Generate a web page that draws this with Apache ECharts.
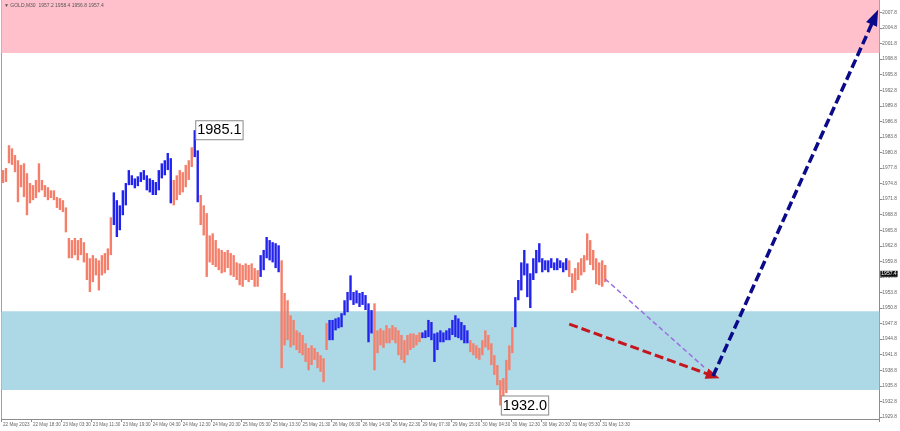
<!DOCTYPE html>
<html><head><meta charset="utf-8">
<script src="https://cdn.jsdelivr.net/npm/echarts@6/dist/echarts.min.js"></script>
<style>html,body{margin:0;padding:0;background:#fff}#c{width:900px;height:431px}</style>
</head><body><div id="c"></div>
<script>
const title = "GOLD,M30  1957.2 1958.4 1956.8 1957.4";
const timeLabels = ["22 May 2023","22 May 18:30","23 May 03:30","23 May 11:30","23 May 19:30","24 May 04:30","24 May 12:30","24 May 20:30","25 May 05:30","25 May 13:30","25 May 21:30","26 May 06:30","26 May 14:30","26 May 22:30","29 May 07:30","29 May 15:30","30 May 04:30","30 May 12:30","30 May 20:30","31 May 05:30","31 May 13:30"];
const barsPerLabel = 10;
const totalSlots = 293;
const yTicks = [1929.8,1932.8,1935.8,1938.8,1941.8,1944.8,1947.8,1950.8,1953.8,1956.8,1959.8,1962.8,1965.8,1968.8,1971.8,1974.8,1977.8,1980.8,1983.8,1986.8,1989.8,1992.8,1995.8,1998.8,2001.8,2004.8,2007.8];
const yMin = 1929.4, yMax = 2010.2;
const barHigh = [
1977.4,1977.8,1982.2,1981.6,1980.3,1979.3,1978.4,1978.7,1976.8,1974.9,
1974.5,1975.5,1978.7,1975.5,1974.5,1974.1,1973.5,1973.5,1972.2,1972.0,
1971.6,1970.2,1964.3,1963.9,1964.3,1963.9,1964.3,1963.5,1961.4,1960.4,
1961.0,1960.4,1960.0,1961.0,1961.4,1962.3,1968.3,1973.1,1971.6,1970.6,
1973.5,1974.9,1977.4,1976.4,1975.8,1976.2,1977.0,1977.4,1976.4,1975.8,
1975.5,1975.1,1977.4,1978.7,1979.3,1980.7,1979.7,1975.5,1976.4,1977.4,
1977.0,1978.4,1979.3,1981.8,1985.1,1981.2,1972.6,1970.6,1969.1,1964.8,
1965.2,1963.9,1962.3,1962.0,1961.6,1962.0,1961.4,1961.0,1959.6,1959.4,
1959.1,1959.4,1959.1,1959.4,1958.5,1958.1,1961.0,1962.0,1964.5,1963.9,
1963.5,1963.3,1962.9,1960.0,1953.7,1952.3,1949.4,1948.5,1946.5,1946.1,
1945.6,1944.0,1943.1,1943.6,1943.1,1942.3,1941.7,1941.1,1947.9,1948.5,
1948.5,1948.8,1949.0,1949.8,1952.3,1953.9,1957.1,1953.9,1954.2,1953.7,
1953.9,1953.3,1951.7,1950.4,1951.7,1946.5,1946.9,1946.5,1947.5,1946.9,
1947.5,1947.1,1946.5,1945.6,1944.6,1945.6,1945.9,1945.9,1945.6,1946.1,
1946.1,1946.5,1948.5,1948.1,1945.9,1946.1,1946.5,1946.1,1946.5,1946.9,
1948.5,1949.4,1948.8,1948.1,1947.5,1946.5,1944.6,1944.0,1943.6,1943.1,
1944.6,1946.5,1945.6,1944.0,1941.7,1939.8,1936.9,1937.3,1940.8,1943.6,
1947.1,1952.9,1956.2,1959.6,1962.0,1959.4,1957.5,1960.4,1962.0,1963.3,
1960.4,1960.0,1960.0,1960.4,1959.6,1960.4,1960.0,1959.6,1960.4,1960.0,
1957.5,1958.5,1959.6,1960.4,1961.0,1965.2,1963.9,1962.0,1960.4,1959.6,
1960.0,1959.1];
const barLow = [
1974.9,1975.1,1978.7,1978.4,1977.0,1971.2,1974.1,1972.2,1968.7,1971.0,
1971.6,1972.0,1973.1,1973.5,1972.2,1971.6,1972.0,1971.6,1970.1,1969.7,
1969.3,1965.4,1960.4,1960.4,1961.0,1960.0,1961.0,1959.6,1956.2,1953.9,
1955.8,1957.1,1954.2,1957.1,1957.5,1958.1,1961.0,1966.8,1964.5,1965.8,
1968.7,1970.6,1974.5,1974.5,1973.9,1974.3,1975.1,1975.5,1973.5,1973.1,
1972.6,1972.6,1973.5,1975.8,1976.4,1977.4,1971.0,1970.6,1971.6,1972.6,
1973.1,1974.1,1975.5,1978.0,1979.9,1971.2,1966.8,1964.8,1956.8,1959.6,
1959.1,1958.7,1958.1,1957.5,1957.7,1958.5,1957.1,1956.8,1956.2,1955.2,
1954.9,1956.2,1955.8,1956.2,1954.9,1954.9,1956.8,1958.1,1960.4,1960.0,
1959.6,1958.5,1957.7,1939.2,1943.6,1944.6,1943.2,1943.6,1942.7,1942.1,
1941.7,1940.4,1938.8,1939.8,1940.8,1939.2,1938.5,1936.5,1942.7,1944.6,
1944.6,1946.5,1946.9,1947.1,1949.4,1950.0,1952.3,1951.4,1951.7,1951.0,
1951.4,1950.4,1944.2,1945.9,1938.8,1942.1,1943.6,1943.1,1944.0,1944.0,
1944.6,1944.0,1941.7,1940.8,1940.2,1941.7,1942.7,1943.1,1943.6,1944.2,
1945.0,1945.0,1945.2,1944.6,1940.4,1942.7,1944.2,1944.2,1944.6,1944.6,
1945.6,1945.2,1945.0,1944.6,1944.0,1944.0,1942.3,1941.7,1941.1,1940.8,
1941.7,1943.2,1942.7,1939.8,1937.9,1935.9,1932.0,1933.0,1934.4,1938.8,
1942.1,1947.1,1952.3,1954.2,1957.1,1952.9,1950.8,1956.2,1957.5,1959.6,
1957.7,1958.1,1957.7,1958.5,1958.1,1958.1,1958.5,1957.7,1958.1,1956.8,
1953.7,1954.2,1956.2,1957.1,1957.7,1960.0,1959.1,1958.1,1955.4,1955.2,
1954.9,1955.8];
const upWaves = [[37,56],[64,65],[86,92],[109,123],[140,155],[171,188]];
const pinkZone = [2000.0, 2010.2];
const blueZone = [1935.0, 1950.2];
const extremes = [{idx:64, price:1985.1}, {idx:166, price:1932.0}];
const lastPrice = 1957.4;
const purplePath = [[201,1956.4],[234,1939.4]];
const redArrow = [[189,1947.7],[237,1937.7]];
const navyArrow = [[237,1937.7],[291,2006.9]];

const categories = [];
for (let i = 0; i < totalSlots; i++) {
  categories.push(i % barsPerLabel === 0 && (i / barsPerLabel) < timeLabels.length ? timeLabels[i / barsPerLabel] : '');
}
const isUp = i => upWaves.some(w => i >= w[0] && i <= w[1]);
const barData = barHigh.map((h, i) => [i, h, barLow[i], isUp(i) ? 1 : 0]);
const SALMON = '#f4806c', BLUE = '#2323ee';
const AXIS_FONT = 'Liberation Sans';

const chart = echarts.init(document.getElementById('c'), null, {renderer: 'canvas'});
chart.setOption({
  animation: false,
  backgroundColor: '#fff',
  grid: {left: 0, right: 17, top: 0, bottom: 12},
  xAxis: {
    type: 'category', data: categories, boundaryGap: true,
    axisLine: {show: true, lineStyle: {color: '#8c8c8c', width: 1}},
    axisTick: {show: true, length: 3, lineStyle: {color: '#8c8c8c'},
      interval: i => categories[i] !== ''},
    axisLabel: {show: true, interval: 0, align: 'left', fontSize: 4.6, color: '#666', margin: 3,
      fontFamily: AXIS_FONT, hideOverlap: false},
    splitLine: {show: false}
  },
  yAxis: [{
    type: 'value', position: 'right', min: yMin, max: yMax, scale: true,
    axisLine: {show: true, lineStyle: {color: '#8c8c8c', width: 1}},
    axisTick: {show: true, length: 3, customValues: yTicks, lineStyle: {color: '#8c8c8c'}},
    axisLabel: {show: true, customValues: yTicks, fontSize: 4.8, color: '#666', margin: 3,
      fontFamily: AXIS_FONT, formatter: v => v.toFixed(1)},
    splitLine: {show: false}
  }, {
    type: 'value', position: 'left', min: yMin, max: yMax,
    axisLine: {show: true, lineStyle: {color: '#a0a0a0'}},
    axisTick: {show: false}, axisLabel: {show: false}, splitLine: {show: false}
  }],
  series: [{
    type: 'line', data: [], z: 1, silent: true,
    markArea: {silent: true, data: [
      [{yAxis: pinkZone[0], itemStyle: {color: '#ffc0cb', opacity: 1}}, {yAxis: pinkZone[1]}],
      [{yAxis: blueZone[0], itemStyle: {color: '#add8e6', opacity: 1}}, {yAxis: blueZone[1]}]
    ]}
  }, {
    type: 'custom', z: 3, data: barData, encode: {x: 0, y: [1, 2]},
    renderItem: (params, api) => {
      const x = api.value(0);
      const hi = api.coord([x, api.value(1)]);
      const lo = api.coord([x, api.value(2)]);
      return {type: 'rect', shape: {x: hi[0] - 1.2, y: hi[1], width: 2.4, height: Math.max(1, lo[1] - hi[1])},
        style: {fill: api.value(3) ? BLUE : SALMON}};
    },
    markPoint: {
      symbol: 'rect', symbolSize: 1, itemStyle: {color: 'rgba(0,0,0,0)'},
      label: {show: true, position: 'right', distance: 1, color: '#000', fontSize: 14.5,
        fontFamily: 'Liberation Sans', backgroundColor: '#fff', borderColor: '#8a8a8a', borderWidth: 1,
        padding: [2, 1, 1, 1], formatter: p => p.value.toFixed(1)},
      data: extremes.map(e => ({coord: [e.idx, e.price], value: e.price}))
    }
  }, {
    type: 'line', data: [], z: 6, silent: true,
    markLine: {
      silent: true, symbol: ['none', 'none'],
      lineStyle: {color: 'rgba(0,0,0,0)', width: 0},
      label: {show: true, position: 'end', distance: 1, formatter: lastPrice.toFixed(1), color: '#fff',
        backgroundColor: '#111', fontSize: 5, padding: [1, 1, 0, 1], fontFamily: AXIS_FONT},
      data: [{yAxis: lastPrice}]
    }
  }, {
    type: 'line', data: [], z: 5, silent: true,
    markLine: {
      silent: true, animation: false, label: {show: false},
      data: [
        [{coord: purplePath[0], symbol: 'none', lineStyle: {color: '#9b6fe0', width: 1.5, type: [5, 3]}},
         {coord: purplePath[1], symbol: 'none'}],
        [{coord: redArrow[0], symbol: 'none', lineStyle: {color: '#c4161c', width: 3, type: [9, 4]}},
         {coord: redArrow[1], symbol: 'triangle', symbolSize: [11, 14]}],
        [{coord: navyArrow[0], symbol: 'none', lineStyle: {color: '#0a0a8a', width: 3.5, type: [9, 4]}},
         {coord: navyArrow[1], symbol: 'triangle', symbolSize: [12, 16]}]
      ]
    }
  }],
  graphic: [{
    type: 'text', left: 4, top: 3, z: 10,
    style: {text: '\u25BC ' + title, fontSize: 5, fill: '#555', fontFamily: AXIS_FONT}
  }]
});
</script></body></html>
